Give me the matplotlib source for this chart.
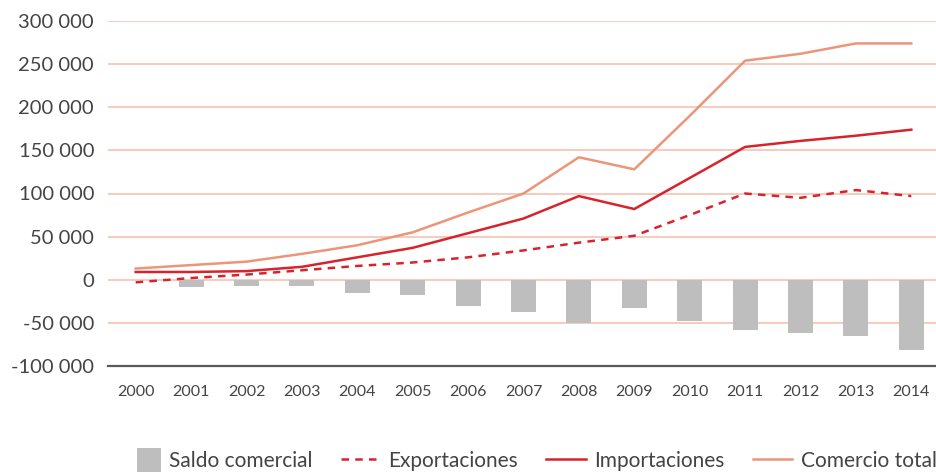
import matplotlib
matplotlib.use("Agg")
import matplotlib.pyplot as plt
from matplotlib.ticker import FuncFormatter
from matplotlib.patches import Patch, Rectangle
from matplotlib.lines import Line2D
from matplotlib.legend_handler import HandlerPatch

years = [str(y) for y in range(2000, 2015)]
saldo = [0, -8000, -7000, -7000, -15000, -18000, -31000, -37000, -50000, -33000, -48000, -58000, -62000, -65000, -81000]
exportaciones = [-3000, 2000, 6000, 11000, 16000, 20000, 26000, 34000, 43000, 51000, 75000, 100000, 95000, 104000, 97000]
importaciones = [9000, 9000, 10000, 15000, 26000, 37000, 54000, 71000, 97000, 82000, 118000, 154000, 161000, 167000, 174000]
comercio_total = [13000, 17000, 21000, 30000, 40000, 55000, 78000, 100000, 142000, 128000, 190000, 254000, 262000, 274000, 274000]
yticks = [-100000, -50000, 0, 50000, 100000, 150000, 200000, 250000, 300000]

plt.rcParams['font.family'] = ['Lato', 'DejaVu Sans']
text_color = '#444444'
grid_color = '#f6c2b2'
bar_color = '#bebebf'
red = '#d7232c'
salmon = '#ec9579'

fig = plt.figure(figsize=(9.36, 4.72), dpi=100)
ax = fig.add_axes([108/936, 1 - 366/472, 831/936, (366 - 21)/472])

x = list(range(len(years)))
for yv in yticks[1:]:
    ax.axhline(yv, color=grid_color, lw=1.2, zorder=0)
ax.bar(x, saldo, width=0.45, color=bar_color, zorder=2)
ax.plot(x, exportaciones, color=red, lw=1.8, ls=(0, (3, 2.5)), zorder=3)
ax.plot(x, importaciones, color=red, lw=1.8, zorder=3)
ax.plot(x, comercio_total, color=salmon, lw=1.8, zorder=3)

ax.set_xlim(-0.5, len(years) - 0.5)
ax.set_ylim(-100000, 300000)
ax.set_yticks(yticks)
ax.yaxis.set_major_formatter(FuncFormatter(lambda v, p: f"{int(v):,}".replace(",", " ")))
ax.set_xticks(x)
ax.set_xticklabels(years)
for s in ['top', 'right', 'left']:
    ax.spines[s].set_visible(False)
ax.spines['bottom'].set_color('#5a5a5c')
ax.spines['bottom'].set_linewidth(1.6)
ax.tick_params(axis='both', length=0, colors=text_color)
ax.tick_params(axis='y', labelsize=14.5, pad=10)
ax.tick_params(axis='x', labelsize=11.5, pad=14)


class SquareHandler(HandlerPatch):
    def create_artists(self, legend, orig_handle, xdescent, ydescent, width, height, fontsize, trans):
        side = height * 1.35
        r = Rectangle((-xdescent + width - side, -ydescent + height / 2 - side / 2), side, side,
                      facecolor=orig_handle.get_facecolor(), edgecolor='none', transform=trans)
        return [r]


handles = [Patch(color=bar_color),
           Line2D([], [], color=red, lw=1.8, ls=(0, (3, 2.5))),
           Line2D([], [], color=red, lw=1.8),
           Line2D([], [], color=salmon, lw=1.8)]
labels = ['Saldo comercial', 'Exportaciones', 'Importaciones', 'Comercio total']
leg = fig.legend(handles, labels, loc='lower center', bbox_to_anchor=(0.565, -0.038), ncol=4,
                 frameon=False, fontsize=15, handlelength=1.9, handleheight=0.9,
                 columnspacing=1.35, handletextpad=0.4, labelcolor=text_color,
                 handler_map={Patch: SquareHandler()})

fig.savefig('out.png', dpi=100)
